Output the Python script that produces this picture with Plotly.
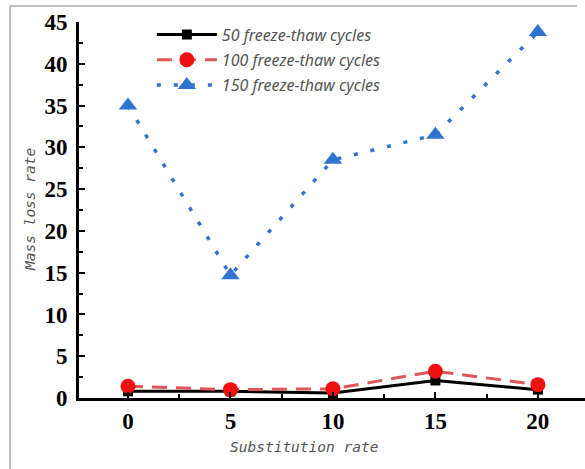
import plotly.graph_objects as go

x_vals = [0, 5, 10, 15, 20]
s50 = [0.8, 0.8, 0.6, 2.1, 1.0]
s100 = [1.4, 1.0, 1.1, 3.2, 1.6]
s150 = [35.0, 14.7, 28.5, 31.5, 43.8]
names = ["50 freeze-thaw cycles", "100 freeze-thaw cycles", "150 freeze-thaw cycles"]
y_ticks = [0, 5, 10, 15, 20, 25, 30, 35, 40, 45]

fig = go.Figure()
fig.add_trace(go.Scatter(x=x_vals, y=s50, name=names[0], mode="lines+markers", legendgroup="a",
                         line=dict(color="black", width=3),
                         marker=dict(symbol="square", size=10, color="black"),
                         cliponaxis=False))
fig.add_trace(go.Scatter(x=x_vals, y=s100, name=names[1], mode="lines+markers", legendgroup="b",
                         line=dict(color="#e05555", width=3, dash="15px,9px"),
                         marker=dict(symbol="circle", size=15, color="#f01010"),
                         cliponaxis=False))
fig.add_trace(go.Scatter(x=x_vals, y=s150, name=names[2], mode="lines+markers", legendgroup="c",
                         line=dict(color="#2f74d0", width=3.5, dash="4px,13px"),
                         marker=dict(symbol="triangle-up", size=16, color="#2f74d0"),
                         cliponaxis=False))

tickfont = dict(family="Liberation Serif, Times New Roman, serif", size=23, color="black", weight="bold")
titlefont = dict(family="DejaVu Sans Mono", size=14.5, color="#555555", style="italic")
fig.update_layout(
    width=585, height=469,
    margin=dict(l=79, r=0, t=22, b=71),
    paper_bgcolor="white", plot_bgcolor="white",
    showlegend=True,
    legend=dict(x=0.144, y=1.012, xanchor="left", yanchor="top", traceorder="grouped",
                bgcolor="rgba(0,0,0,0)",
                font=dict(family="Noto Sans", size=16, color="#555555", style="italic"),
                itemwidth=60, tracegroupgap=1.5),
    xaxis=dict(range=[-2.39, 22.3], tickvals=x_vals, ticks="inside", ticklen=6, tickwidth=2,
               tickcolor="black", showline=True, linecolor="black", linewidth=3,
               showgrid=False, zeroline=False, tickfont=tickfont, ticklabelstandoff=0,
               minor=dict(tickvals=[2.5, 7.5, 12.5, 17.5], ticks="inside", ticklen=4, tickwidth=2, tickcolor="black")),
    yaxis=dict(range=[0, 45], tickvals=y_ticks, ticks="inside", ticklen=6, tickwidth=2,
               tickcolor="black", showline=True, linecolor="black", linewidth=3,
               showgrid=False, zeroline=False, tickfont=tickfont, ticklabelstandoff=4,
               minor=dict(tickvals=[2.5 + 5 * i for i in range(9)], ticks="inside", ticklen=4, tickwidth=2, tickcolor="black")),
)
fig.add_annotation(text="Substitution rate", xref="paper", yref="paper", x=0.445, y=-0.130,
                   showarrow=False, font=titlefont, xanchor="center", yanchor="middle")
fig.add_annotation(text="Mass loss rate", xref="paper", yref="paper", x=-49/506, y=0.5,
                   textangle=-90, showarrow=False, font=titlefont, xanchor="center", yanchor="middle")
# frame lines (decoration)
fig.add_shape(type="line", xref="paper", yref="paper", x0=-69/506, x1=498/506, y0=1 + 16/376, y1=1 + 16/376,
              line=dict(color="#aaaaaa", width=1.5))
fig.add_shape(type="line", xref="paper", yref="paper", x0=-69/506, x1=-69/506, y0=1 + 16/376, y1=-71/376,
              line=dict(color="#aaaaaa", width=1.5))

fig.write_html("out.html")
